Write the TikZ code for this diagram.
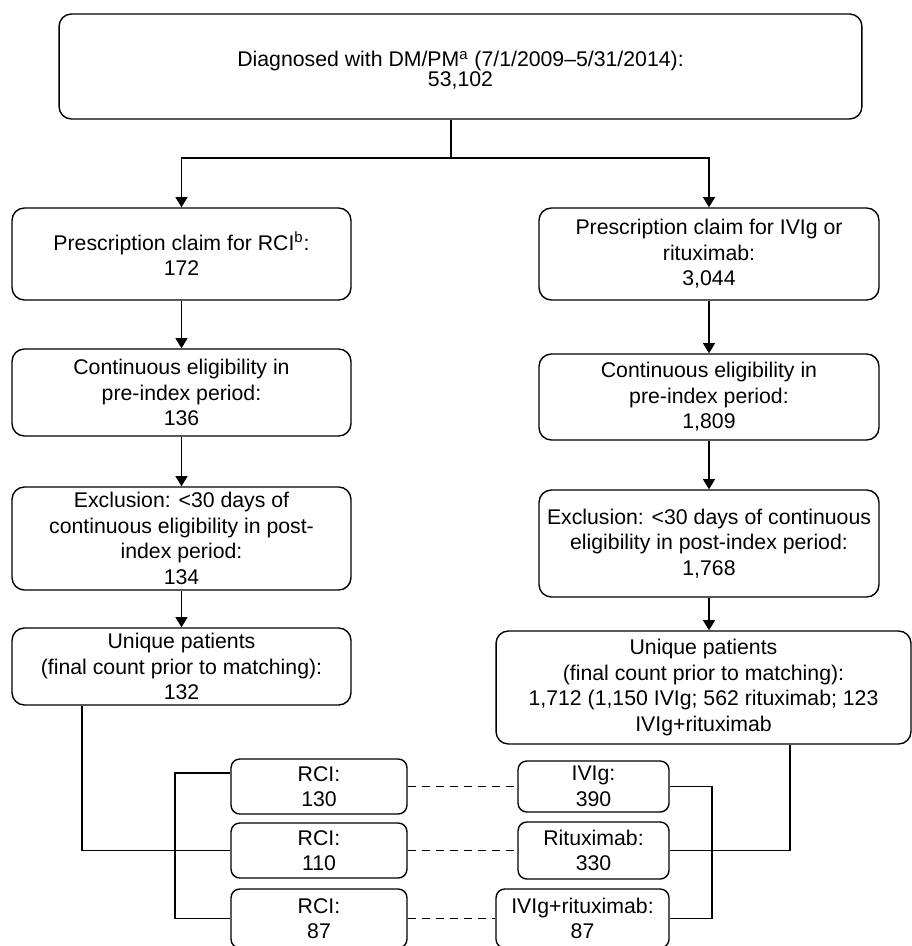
\documentclass[tikz,border=0pt]{standalone}
\usepackage{fontspec}
\setmainfont{Liberation Sans}
\usetikzlibrary{arrows.meta}

\newcommand\boxfont{\fontsize{12.1}{14.5}\selectfont}
\newcommand\topfont{\fontsize{12.1}{11}\selectfont\lineskiplimit=-\maxdimen}

\tikzset{
  flowbox/.style={draw, rounded corners=7pt, align=center, inner sep=0pt, font=\boxfont},
  matchbox/.style={draw, rounded corners=5pt, align=center, inner sep=0pt, font=\boxfont},
  flowarrow/.style={-{Triangle[width=6.8pt,length=5.8pt]}},
  matchline/.style={dash pattern=on 4.5pt off 3.5pt}
}

\begin{document}
\begin{tikzpicture}[x=0.02cm, y=-0.02cm, line width=0.8pt]
  \useasboundingbox (0,0) rectangle (912,946);
  \node[flowbox, font=\topfont, minimum width=16.06cm, minimum height=2.10cm] (diag) at (460.5,66.5)
    {\rule{0pt}{13pt}Diagnosed with DM/PM\textsuperscript{a} (7/1/2009–5/31/2014):\\53,102};
  % left column
  \node[flowbox, minimum width=6.78cm, minimum height=1.84cm] (rciclaim) at (181.5,254)
    {Prescription claim for RCI\textsuperscript{b}:\\172};
  \node[flowbox, minimum width=6.78cm, minimum height=1.74cm] (rcielig) at (181.5,392.5)
    {Continuous eligibility in\\pre-index period:\\136};
  \node[flowbox, minimum width=6.78cm, minimum height=2.06cm] (rciexcl) at (181.5,538.5)
    {Exclusion: <30 days of\\continuous eligibility in post-\\index period:\\134};
  \node[flowbox, minimum width=6.78cm, minimum height=1.54cm] (rciuniq) at (181.5,666.5)
    {Unique patients\\(final count prior to matching):\\132};
  % right column
  \node[flowbox, minimum width=6.80cm, minimum height=1.84cm] (ivclaim) at (709,254)
    {Prescription claim for IVIg or\\rituximab:\\3,044};
  \node[flowbox, minimum width=6.80cm, minimum height=1.72cm] (ivelig) at (709,397)
    {Continuous eligibility in\\pre-index period:\\1,809};
  \node[flowbox, minimum width=6.80cm, minimum height=2.14cm] (ivexcl) at (709,543.5)
    {Exclusion: <30 days of continuous\\eligibility in post-index period:\\1,768};
  \node[flowbox, minimum width=8.30cm, minimum height=2.26cm] (ivuniq) at (703.5,687.5)
    {Unique patients\\(final count prior to matching):\\1,712 (1,150 IVIg; 562 rituximab; 123\\IVIg+rituximab};
  % matched groups
  \node[matchbox, minimum width=3.52cm, minimum height=1.10cm] (rcia) at (319,786.5) {RCI:\\130};
  \node[matchbox, minimum width=3.52cm, minimum height=1.10cm] (rcib) at (319,850.5) {RCI:\\110};
  \node[matchbox, minimum width=3.52cm, minimum height=1.18cm] (rcic) at (319,918.5) {RCI:\\87};
  \node[matchbox, minimum width=3.02cm, minimum height=1.02cm] (ivig) at (593.5,786.5) {IVIg:\\390};
  \node[matchbox, minimum width=3.02cm, minimum height=1.14cm] (ritux) at (593.5,850.5) {Rituximab:\\330};
  \node[matchbox, minimum width=3.46cm, minimum height=1.18cm] (combo) at (582.5,918.5) {IVIg+rituximab:\\87};

  \coordinate (split) at (451,158);
  \coordinate (ljoin) at (82,850.5);
  \coordinate (lbrack) at (175,773);
  \coordinate (rbrack) at (712,786.5);
  \coordinate (rjoin) at (790,850.5);

  \draw (split |- diag.south) -- (split);
  \draw[flowarrow] (split) -| (rciclaim.north);
  \draw[flowarrow] (split) -| (ivclaim.north);
  \draw[flowarrow] (rciclaim) -- (rcielig);
  \draw[flowarrow] (rcielig) -- (rciexcl);
  \draw[flowarrow] (rciexcl) -- (rciuniq);
  \draw[flowarrow] (ivclaim) -- (ivelig);
  \draw[flowarrow] (ivelig) -- (ivexcl);
  \draw[flowarrow] (ivexcl.south) -- (ivexcl.south |- ivuniq.north);

  \draw (ljoin |- rciuniq.south) -- (ljoin) -- (rcib.west);
  \draw (lbrack -| rcia.west) -- (lbrack) |- (rcic.west);
  \draw (ivig.east) -| (rbrack) |- (combo.east);
  \draw (rjoin |- ivuniq.south) -- (rjoin) -- (ritux.east);

  \draw[matchline] (rcia) -- (ivig);
  \draw[matchline] (rcib) -- (ritux);
  \draw[matchline] (rcic) -- (combo);
\end{tikzpicture}
\end{document}
